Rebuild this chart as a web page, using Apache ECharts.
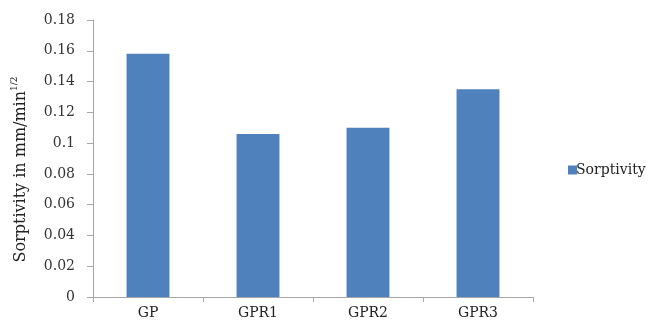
<!DOCTYPE html>
<html>
<head>
<meta charset="utf-8">
<script src="https://cdn.jsdelivr.net/npm/echarts@6/dist/echarts.min.js"></script>
<style>
  html, body { margin: 0; padding: 0; background: #fff; }
  #chart { width: 660px; height: 320px; }
</style>
</head>
<body>
<div id="chart"></div>
<script>
// Sorptivity of each mix (mm/min^1/2)
const categories = ['GP', 'GPR1', 'GPR2', 'GPR3'];
const sorptivity = [0.158, 0.106, 0.110, 0.135];
const yTicks = { min: 0, max: 0.18, interval: 0.02 };

const font = '"DejaVu Serif", "Liberation Serif", serif';
const axisGrey = '#a6a6a6';
const barBlue = '#4f81bd';

const chart = echarts.init(document.getElementById('chart'));
chart.setOption({
  animation: false,
  backgroundColor: '#ffffff',
  grid: { left: 93, right: 127, top: 20, bottom: 23, outerBoundsMode: 'none', containLabel: false },
  legend: {
    data: ['Sorptivity'],
    left: 563, top: 158,
    orient: 'vertical',
    itemWidth: 9, itemHeight: 9, itemGap: 4,
    icon: 'rect',
    textStyle: { fontFamily: font, fontSize: 14, color: '#222', padding: [0, 0, 0, -6] }
  },
  xAxis: {
    type: 'category',
    data: categories,
    axisLine: { lineStyle: { color: axisGrey, width: 1 } },
    axisTick: { show: true, alignWithLabel: false, length: 5, lineStyle: { color: axisGrey } },
    axisLabel: { fontFamily: font, fontSize: 14, color: '#222', margin: 9 }
  },
  yAxis: {
    type: 'value',
    min: yTicks.min, max: yTicks.max, interval: yTicks.interval,
    name: '{a|Sorptivity in mm/min}{s|1/2}',
    nameLocation: 'middle',
    nameRotate: 90,
    nameGap: 64,
    nameTextStyle: {
      padding: [0, 22, 0, 0],
      rich: {
        a: { fontFamily: font, fontSize: 16, color: '#222', verticalAlign: 'bottom', lineHeight: 19 },
        s: { fontFamily: font, fontSize: 9, color: '#222', verticalAlign: 'top', lineHeight: 19 }
      }
    },
    axisLine: { show: true, lineStyle: { color: axisGrey, width: 1 } },
    axisTick: { show: true, length: 6, lineStyle: { color: axisGrey } },
    splitLine: { show: false },
    axisLabel: {
      fontFamily: font, fontSize: 14, color: '#333', margin: 18,
      formatter: v => String(parseFloat(v.toFixed(2)))
    }
  },
  series: [{
    name: 'Sorptivity',
    type: 'bar',
    data: sorptivity,
    barWidth: '39%',
    itemStyle: { color: barBlue }
  }]
});
</script>
</body>
</html>
